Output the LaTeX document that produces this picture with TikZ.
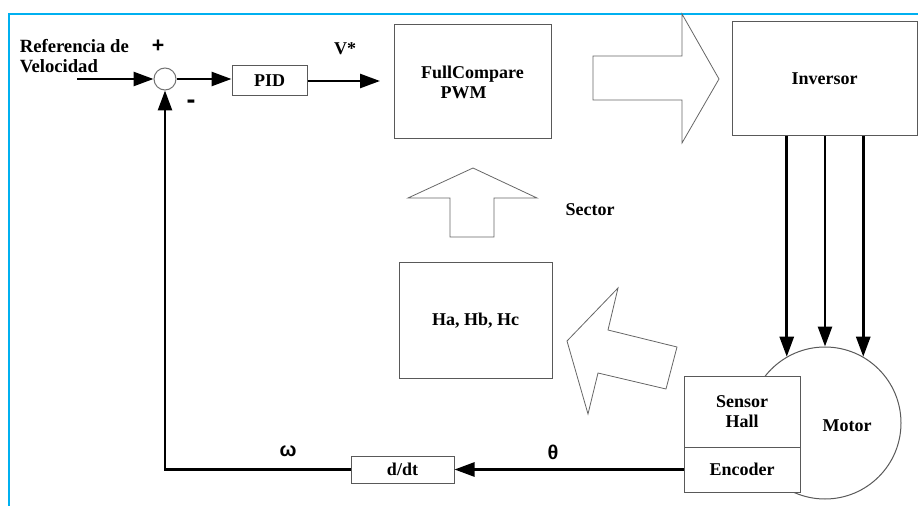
\documentclass[tikz,border=0pt]{standalone}
\usepackage{fontspec}
\setmainfont{Liberation Serif}
\newfontfamily\signfont{Liberation Sans}
\usetikzlibrary{positioning, arrows.meta, calc}
\definecolor{frameblue}{RGB}{0,176,240}
\def\boxLine{0.75pt}
\def\sigLine{2pt}
\def\pxUnit{0.75pt}
\newcommand{\lblfont}{\fontsize{13.5}{15}\selectfont\bfseries}
\newcommand{\BLDCStyles}{
  \tikzset{
    basebox/.style={
      rectangle,
      draw=black!65,
      line width=\boxLine,
      fill=white,
      inner sep=0pt,
      align=center
    },
    ctrlbox/.style={basebox, minimum width=56.25pt, minimum height=22.5pt},
    derivbox/.style={basebox, minimum width=77.25pt, minimum height=20.25pt},
    bigbox/.style={basebox, minimum width=117.75pt, minimum height=85.5pt},
    powerbox/.style={basebox, minimum width=138.75pt, minimum height=85.5pt},
    sensebox/.style={basebox, minimum width=87pt, minimum height=53.25pt},
    encbox/.style={basebox, minimum width=87pt, minimum height=33.75pt},
    sumnode/.style={circle, draw=black!55, line width=\boxLine, fill=white, inner sep=0pt, minimum size=16.5pt},
    motornode/.style={circle, draw=black!65, line width=\boxLine, inner sep=0pt, minimum size=114pt},
    blockarrow/.style={draw=black!60, line width=0.6pt, fill=white, line join=miter},
    signtext/.style={font=\signfont\fontsize{16}{16}\selectfont\bfseries},
    greektext/.style={font=\signfont\fontsize{15}{15}\selectfont\bfseries},
    frameline/.style={draw=frameblue, line width=1.6pt}
  }
}

\begin{document}
\begin{tikzpicture}[
  x=\pxUnit, y=-\pxUnit,
  line width=\sigLine,
  >={Triangle[length=15pt, width=10.5pt]},
  font=\lblfont
]
  \BLDCStyles
  \useasboundingbox (0,0) rectangle (918,506);

  % frame
  \draw[frameline] (918,14) -- (9,14) -- (9,506);

  % speed loop
  \node[anchor=west, align=left, font=\fontsize{14}{15}\selectfont\bfseries] (ref) at (14,56) {Referencia de\\Velocidad};
  \coordinate (refin) at (77,79);
  \node[sumnode] (sum) at (165,79) {};
  \node[signtext] (plus) at (158,46) {+};
  \node[signtext, font=\signfont\fontsize{20}{20}\selectfont\bfseries] (minus) at (191,104) {-};
  \node[ctrlbox] (pid) at (269.5,81) {PID};
  \coordinate (vend) at (380,81);
  \node (vstar) at (345,49) {V*};

  \draw[->] (refin) -- (sum.west);
  \draw[->] (sum.east) -- (pid.west |- sum.east);
  \draw[->] (pid.east) -- (vend);

  % main blocks
  \node[bigbox] (pwm) at (472.5,82) {FullCompare\\PWM\hspace*{1em}};
  \node[powerbox] (inv) at (824.5,79) {Inversor};
  \node[bigbox, minimum width=114.75pt, minimum height=86.25pt] (hall) at (475.5,320.5) {Ha, Hb, Hc};
  \node (sector) at (590,210) {Sector};

  % block arrows
  \draw[blockarrow] (593,56) -- (682,56) -- (682,14) -- (719,79) -- (682,143) -- (682,100) -- (593,100) -- cycle;
  \draw[blockarrow] (450,237) -- (450,198) -- (408,198) -- (473,168) -- (537,198) -- (494,198) -- (494,237) -- cycle;
  \draw[blockarrow] (618,288) -- (608,330) -- (677,347) -- (666,389) -- (598,373) -- (588,414) -- (567,341) -- cycle;

  % motor
  \node[motornode] (motor) at (825,423) {};
  \node (motortxt) at (847,426) {Motor};
  \node[sensebox] (sensor) at (742,411.5) {Sensor\\Hall};
  \node[encbox] (enc) at (742,469.5) {Encoder};

  \draw[->] (motor.120 |- inv.south) -- (motor.120);
  \draw[->] (motor.north |- inv.south) -- (motor.north);
  \draw[->] (motor.60 |- inv.south) -- (motor.60);

  % feedback
  \node[derivbox] (ddt) at (402.5,469.5) {d/dt};
  \node[greektext] (theta) at (553,452) {θ};
  \node[greektext] (omega) at (288,451) {ω};
  \draw[->] (enc.west) -- (ddt.east);
  \draw[->] (ddt.west) -| (sum.south);
\end{tikzpicture}
\end{document}
